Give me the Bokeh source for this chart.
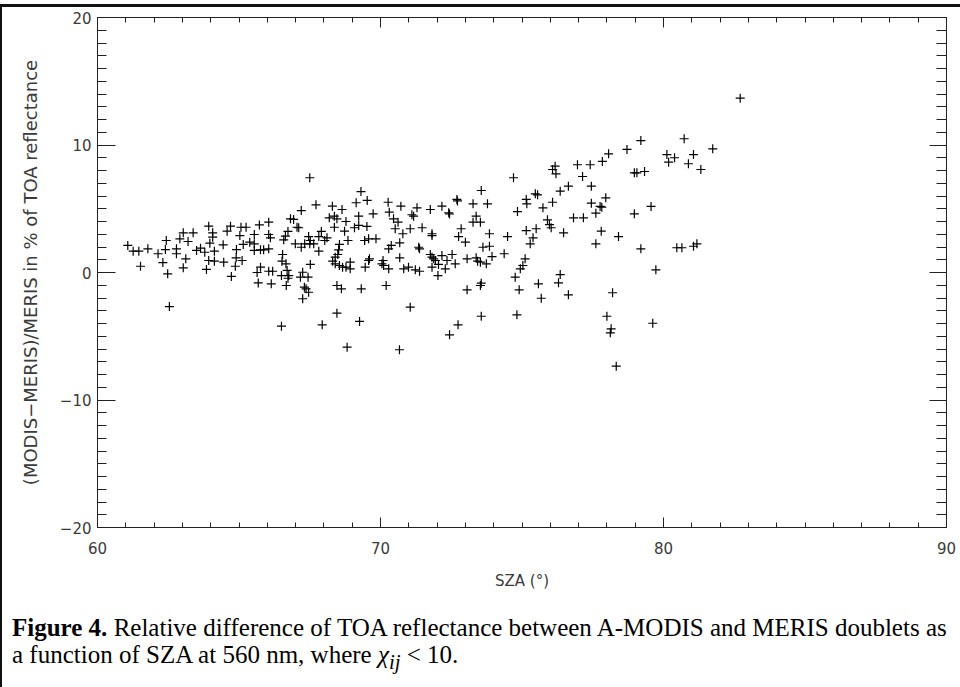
from bokeh.plotting import figure
from bokeh.models import FixedTicker, LinearAxis, Range1d, Div
from bokeh.layouts import column
from bokeh.embed import file_html
from bokeh.resources import INLINE

# ---- data: SZA (deg) and relative difference (%) ----
# band 1: SZA 61-66
sza_1 = [61.07, 61.26, 61.46, 61.78, 61.52, 62.14, 62.31, 62.48, 62.54, 62.43,
         62.40, 62.79, 62.79, 63.03, 62.91, 63.20, 63.38, 63.12, 63.03, 63.50,
         63.64, 63.79, 63.93, 64.07, 64.07, 63.97, 64.13, 63.93, 64.13, 63.85,
         64.46, 64.44, 64.58, 64.70, 65.07, 65.25, 65.03, 64.91, 64.90, 65.11,
         64.87, 64.73, 65.15, 65.38, 65.54, 65.54, 65.54, 65.72, 65.64, 65.68]
diff_1 = [2.12, 1.67, 1.67, 1.86, 0.49, 1.47, 0.78, -0.10, -2.67, 2.51,
          1.80, 1.86, 1.47, 3.11, 2.64, 2.43, 3.11, 1.07, 0.37, 1.73,
          1.91, 1.59, 3.63, 3.11, 2.77, 2.30, 1.67, 0.94, 0.89, 0.24,
          0.81, 2.17, 3.24, 3.63, 3.55, 3.55, 2.90, 1.80, 1.15, 0.94,
          0.49, -0.31, 2.20, 2.38, 2.98, 2.25, 1.73, 3.73, 0.00, -0.82]

# band 2: SZA 65.7-71
sza_2 = [67.50, 69.31, 69.53, 69.14, 67.72, 68.30, 68.64, 67.20, 70.27, 70.72,
         70.31, 69.74, 69.23, 68.37, 68.46, 68.19, 68.78, 66.82, 66.93, 67.05,
         67.11, 66.05, 70.46, 70.62, 70.52, 70.79, 66.73, 66.64, 66.05, 66.11,
         68.37, 68.73, 69.08, 69.23, 69.52, 67.91, 67.82, 67.46, 67.52, 67.32,
         67.50, 67.64, 66.99, 67.20, 68.03, 68.11, 67.82, 68.85, 68.55, 68.52,
         68.49, 69.44, 69.58, 69.84, 70.38, 70.29, 70.68, 66.58, 65.76, 65.87,
         66.05, 66.54, 66.52, 66.66, 65.76, 66.05, 66.19, 66.50, 66.70, 66.76,
         66.73, 66.14, 66.67, 67.25, 67.17, 67.44, 67.31, 67.37, 67.46, 67.25,
         67.52, 68.40, 68.31, 68.40, 68.55, 68.66, 68.93, 68.93, 68.78, 69.61,
         69.58, 69.46, 70.09, 70.05, 70.11, 70.29, 70.68, 70.82, 68.46, 68.62,
         69.32, 70.20, 68.46, 66.50, 67.94, 69.26, 68.82, 70.67]
diff_2 = [7.43, 6.35, 5.65, 5.47, 5.31, 5.20, 4.94, 4.86, 5.51, 5.20,
          4.73, 4.60, 4.42, 4.42, 4.21, 4.29, 4.00, 4.21, 4.16, 3.55,
          3.51, 3.95, 4.21, 3.95, 3.43, 3.04, 3.22, 2.85, 2.98, 2.72,
          3.55, 3.24, 3.51, 3.69, 3.61, 3.22, 2.82, 2.82, 2.51, 2.25,
          2.25, 2.25, 2.25, 1.98, 2.51, 2.72, 1.67, 2.51, 2.20, 1.78,
          1.41, 2.51, 2.64, 2.64, 2.12, 1.86, 2.33, 2.56, 1.78, 1.78,
          1.86, 1.41, 0.89, 0.68, 0.42, 0.10, 0.10, -0.24, 0.16, -0.24,
          -0.45, -0.89, -1.02, 0.02, -0.37, -0.37, -1.15, -1.28, -1.55, -2.06,
          0.63, 1.20, 0.89, 0.68, 0.55, 0.42, 0.81, 0.29, 0.42, 1.07,
          0.94, 0.42, 0.94, 0.68, 0.55, 0.29, 1.15, 0.29, -1.02, -1.28,
          -1.28, -1.02, -3.19, -4.21, -4.10, -3.84, -5.86, -6.06]

# band 3: SZA 71-76
sza_3 = [74.70, 73.56, 72.70, 72.72, 73.27, 73.78, 72.41, 72.44, 72.17, 71.76,
         71.29, 71.11, 71.17, 73.38, 73.27, 73.53, 72.85, 72.76, 73.00, 73.85,
         74.49, 71.47, 71.05, 71.82, 71.82, 71.35, 71.38, 73.62, 73.85, 71.76,
         71.82, 71.88, 71.94, 72.17, 72.53, 72.35, 71.82, 72.05, 72.29, 72.64,
         72.03, 73.06, 73.38, 73.43, 73.53, 73.74, 73.94, 74.37, 70.99, 71.23,
         71.38, 73.06, 73.53, 73.56, 71.05, 72.74, 72.44, 73.56, 74.82, 74.90,
         74.76, 74.94, 75.03, 75.11, 75.58, 75.68, 75.15, 75.50, 75.39, 75.29,
         74.84, 75.17, 75.15, 75.47, 75.55, 75.74]
diff_3 = [7.43, 6.43, 5.73, 5.61, 5.39, 5.39, 4.68, 4.59, 5.20, 4.94,
          5.07, 4.53, 4.42, 4.42, 3.95, 3.95, 3.43, 2.82, 2.38, 3.04,
          2.82, 3.51, 3.43, 3.04, 2.90, 1.98, 1.86, 1.98, 2.06, 1.41,
          1.20, 1.07, 0.94, 1.33, 1.41, 0.94, 0.42, 0.63, 0.29, 0.68,
          -0.24, 1.07, 1.15, 0.89, 0.81, 0.68, 1.25, 1.47, 0.42, 0.21,
          0.10, -1.36, -1.02, -0.84, -2.72, -4.10, -4.89, -3.43, -3.32, -1.36,
          -0.37, 0.29, 0.55, 1.07, -0.89, -2.02, 3.29, 3.43, 2.72, 2.25,
          4.78, 5.39, 5.73, 6.17, 6.09, 5.07]

# band 4: SZA 76-83
sza_4 = [79.20, 80.73, 78.71, 78.06, 77.84, 77.41, 76.96, 77.14, 76.17, 76.08,
         76.20, 80.12, 80.39, 80.18, 80.88, 81.06, 78.97, 79.06, 79.33, 76.64,
         76.35, 77.45, 77.96, 76.08, 77.45, 77.76, 77.82, 77.61, 78.97, 79.56,
         76.82, 77.17, 75.90, 75.97, 76.03, 76.47, 77.80, 77.61, 78.41, 79.20,
         80.47, 80.65, 81.06, 81.18, 79.73, 76.35, 76.29, 76.64, 78.20, 78.00,
         78.15, 78.12, 79.62, 78.33, 82.71, 81.74, 81.32]
diff_4 = [10.35, 10.49, 9.65, 9.31, 8.71, 8.45, 8.45, 7.53, 8.34, 8.08,
          7.74, 9.25, 9.00, 8.65, 8.53, 9.25, 7.82, 7.82, 7.92, 6.77,
          6.38, 6.77, 5.86, 5.51, 5.44, 5.18, 5.12, 4.65, 4.60, 5.18,
          4.29, 4.29, 4.13, 3.75, 3.51, 3.11, 3.24, 2.25, 2.82, 1.86,
          1.94, 1.94, 2.06, 2.25, 0.21, -0.16, -0.81, -1.75, -1.59, -3.43,
          -4.42, -4.73, -3.98, -7.35, 13.67, 9.70, 8.08]

x_major = [60, 70, 80, 90]
x_minor = list(range(60, 91))
y_major = [-20, -10, 0, 10, 20]
y_minor = list(range(-20, 21))
y_labels = {-20: "\u221220", -10: "\u221210", 0: "0", 10: "10", 20: "20"}

sza = sza_1 + sza_2 + sza_3 + sza_4
diff = diff_1 + diff_2 + diff_3 + diff_4

INK = "#222222"
TXT = "#3a3a3a"
FONT = "DejaVu Sans"

p = figure(width=958, height=593, x_range=Range1d(60, 90), y_range=Range1d(-20, 20),
           output_backend="svg", toolbar_location=None,
           min_border_left=95, min_border_right=14, min_border_top=10, min_border_bottom=73)
p.grid.visible = False
p.outline_line_color = INK
p.outline_line_width = 1
p.background_fill_color = "white"
p.border_fill_color = "white"

p.scatter(sza, diff, marker="cross", size=9, line_color="black", line_width=1.2)


def style_axis(ax, ticks, minor, tin, mtin, show_labels):
    ax.ticker = FixedTicker(ticks=ticks, minor_ticks=minor)
    ax.major_tick_in = tin
    ax.major_tick_out = 0
    ax.minor_tick_in = mtin
    ax.minor_tick_out = 0
    ax.axis_line_color = INK
    ax.major_tick_line_color = INK
    ax.minor_tick_line_color = INK
    ax.major_label_text_font = FONT
    ax.major_label_text_color = TXT
    ax.axis_label_text_font = FONT
    ax.axis_label_text_color = TXT
    ax.axis_label_text_font_style = "normal"
    ax.major_label_text_font_size = "15px"
    if not show_labels:
        # twin axis: tick marks only, its labels are not drawn
        ax.major_label_text_color = None
        ax.major_label_text_font_size = "1px"
        ax.major_label_standoff = 0


xb = p.xaxis[0]
style_axis(xb, x_major, x_minor, 10, 5, True)
xb.axis_label = "SZA (\u00b0)"
xb.axis_label_text_font_size = "15px"
xb.major_label_standoff = 14
xb.axis_label_standoff = 15

yl = p.yaxis[0]
style_axis(yl, y_major, y_minor, 18, 9, True)
yl.major_label_overrides = y_labels
yl.axis_label = "(MODIS\u2212MERIS)/MERIS in % of TOA reflectance"
yl.axis_label_text_font_size = "18px"
yl.major_label_standoff = 6
yl.axis_label_standoff = 16

xt = LinearAxis()
style_axis(xt, x_major, x_minor, 10, 5, False)
p.add_layout(xt, "above")

yr = LinearAxis()
style_axis(yr, y_major, y_minor, 17, 10, False)
p.add_layout(yr, "right")

caption = Div(
    text=("<b>Figure 4.</b> Relative difference of TOA reflectance between A-MODIS and MERIS doublets as"
          "<br>a function of SZA at 560 nm, where <i>&chi;<sub>ij</sub></i> &lt; 10."),
    width=955, height=80,
    styles={"font-family": "'Liberation Serif', serif", "font-size": "25px",
            "line-height": "27px", "color": "black", "padding-top": "9px",
            "padding-left": "5px", "white-space": "nowrap"})

layout = column(p, caption, styles={"border-top": "3px solid #111", "border-left": "2px solid #111",
                                    "margin-top": "4px"})

open("out.html", "w").write(file_html(layout, INLINE))
